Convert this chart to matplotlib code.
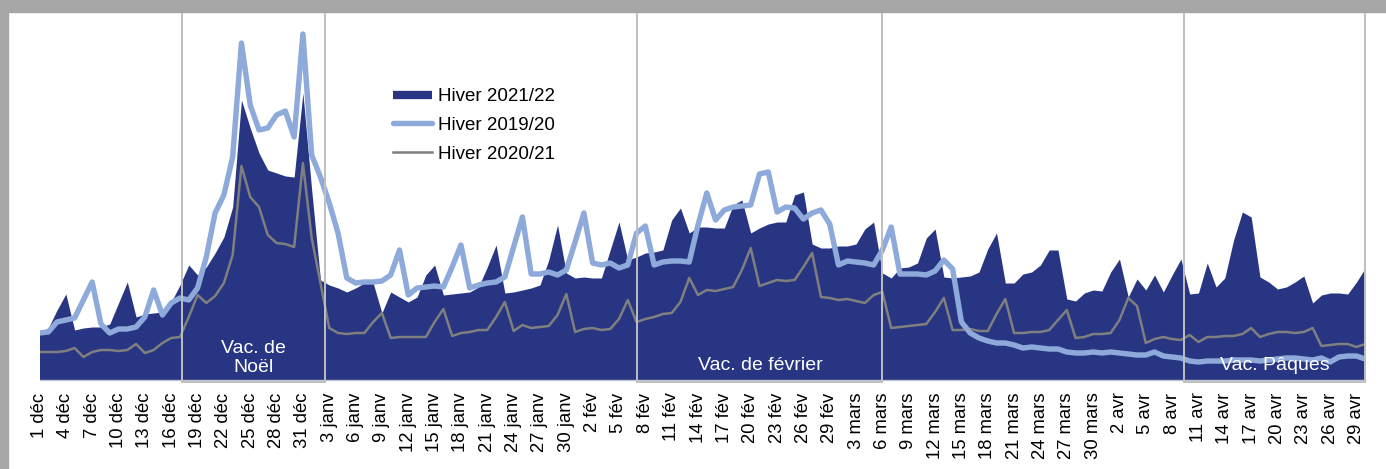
import matplotlib
matplotlib.use("Agg")
import matplotlib.pyplot as plt
from matplotlib.lines import Line2D
from matplotlib.patches import Rectangle
import pandas as pd

plt.rcParams['font.family'] = ['Liberation Sans', 'DejaVu Sans']

# daily index, 1 Dec -> 30 Apr (leap-year calendar, 152 days)
hiver_2021_22 = [
    48, 52, 70, 86, 50, 52, 53, 53, 56, 77, 98, 63, 66, 67, 68, 78, 95, 115, 105, 113,
    127, 143, 173, 280, 252, 227, 210, 207, 204, 203, 287, 190, 100, 95, 92, 88, 92, 97, 97, 67,
    88, 83, 78, 83, 105, 115, 85, 86, 87, 88, 93, 113, 135, 87, 88, 90, 92, 95, 120, 155,
    107, 102, 103, 102, 102, 130, 158, 120, 123, 127, 128, 130, 160, 172, 147, 153, 153, 152, 152, 175,
    180, 147, 152, 156, 158, 158, 185, 188, 136, 132, 132, 134, 134, 136, 151, 158, 107, 102, 112, 113,
    117, 142, 151, 103, 102, 103, 104, 108, 131, 147, 97, 97, 106, 108, 115, 130, 130, 81, 79, 87,
    90, 89, 108, 121, 83, 101, 90, 105, 88, 105, 121, 86, 87, 117, 93, 102, 140, 168, 163, 103,
    98, 91, 93, 98, 104, 77, 85, 87, 87, 86, 98, 112,
]
hiver_2019_20 = [
    47, 48, 58, 60, 62, 80, 98, 56, 47, 51, 51, 53, 63, 90, 65, 77, 82, 80, 92, 123,
    167, 185, 223, 337, 275, 250, 252, 265, 269, 243, 346, 225, 203, 177, 147, 102, 97, 98, 98, 99,
    105, 130, 85, 92, 93, 94, 93, 113, 135, 92, 95, 97, 98, 103, 133, 163, 106, 106, 108, 105,
    110, 138, 167, 117, 115, 117, 112, 115, 147, 154, 115, 118, 119, 119, 118, 155, 187, 160, 170, 173,
    174, 175, 206, 208, 168, 173, 172, 161, 167, 170, 156, 115, 119, 118, 117, 115, 130, 153, 106, 106,
    106, 105, 109, 120, 111, 58, 47, 42, 39, 37, 37, 35, 32, 33, 32, 31, 31, 28, 27, 27,
    28, 27, 28, 27, 26, 25, 25, 28, 24, 23, 22, 19, 18, 19, 19, 19, 20, 20, 20, 19,
    20, 21, 22, 22, 21, 20, 22, 18, 23, 24, 24, 21,
]
hiver_2020_21 = [
    28, 28, 28, 29, 32, 23, 28, 30, 30, 29, 30, 36, 27, 30, 37, 42, 43, 63, 85, 77,
    84, 97, 125, 214, 183, 173, 145, 137, 136, 133, 217, 142, 97, 52, 47, 46, 47, 47, 58, 67,
    42, 43, 43, 43, 43, 58, 71, 44, 47, 48, 50, 50, 63, 78, 49, 55, 52, 53, 54, 65,
    86, 48, 51, 52, 50, 51, 61, 80, 58, 61, 63, 66, 67, 78, 102, 85, 90, 89, 91, 93,
    110, 132, 94, 97, 100, 99, 100, 113, 127, 83, 82, 80, 81, 79, 77, 85, 88, 52, 53, 54,
    55, 56, 68, 82, 50, 50, 51, 49, 49, 66, 81, 47, 47, 48, 48, 50, 60, 70, 42, 43,
    46, 46, 47, 60, 82, 74, 37, 41, 43, 41, 40, 45, 38, 43, 43, 44, 44, 46, 52, 43,
    46, 48, 48, 47, 48, 52, 34, 35, 36, 36, 33, 36,
]

series_labels = ["Hiver 2021/22", "Hiver 2019/20", "Hiver 2020/21"]
month_abbr = {12: "déc", 1: "janv", 2: "fév", 3: "mars", 4: "avr"}
dates = pd.date_range("2019-12-01", periods=len(hiver_2021_22), freq="D")
tick_pos = list(range(0, len(dates), 3))
tick_labels = [f"{dates[i].day} {month_abbr[dates[i].month]}" for i in tick_pos]

# school holidays (day index span) and their captions
vacances = [(16.25, 32.5, "Vac. de\nNoël"), (68.1, 96.0, "Vac. de février"), (130.3, 151.0, "Vac. Pâques")]

navy = "#283583"
light_blue = "#8eaadb"
grey = "#7f7f7f"

W, H = 1386, 469
fig = plt.figure(figsize=(W / 100, H / 100), dpi=100)
fig.patches.append(Rectangle((0, 1 - 12 / H), 1, 12 / H, transform=fig.transFigure,
                             color="#a6a6a6", zorder=0))
fig.patches.append(Rectangle((0, 0), 8 / W, 1, transform=fig.transFigure,
                             color="#a6a6a6", zorder=0))

ax = fig.add_axes([39.5 / W, 89 / H, (1365.3 - 39.5) / W, 370 / H])
ax.set_facecolor("none")
x = list(range(len(dates)))

ax.fill_between(x, hiver_2021_22, 0, color=navy, lw=0, zorder=2)
ax.plot(x, hiver_2020_21, color=grey, lw=1.8, zorder=3, solid_joinstyle="round")
ax.plot(x, hiver_2019_20, color=light_blue, lw=3.9, zorder=4,
        solid_joinstyle="round", solid_capstyle="round")

for x0, x1, name in vacances:
    ax.add_patch(Rectangle((x0, -1.5), x1 - x0, 371.5, fill=False, ec="#bfbfbf",
                           lw=1.4, zorder=6, clip_on=False))
    ax.text((x0 + x1) / 2, 22 if "\n" in name else 15, name, color="white",
            fontsize=14, ha="center", va="center", linespacing=1.1, zorder=7)

ax.set_xlim(0, len(dates) - 1)
ax.set_ylim(0, 370)
ax.set_yticks([])
ax.set_xticks(tick_pos)
ax.set_xticklabels(tick_labels, rotation=90, fontsize=13.3)
ax.tick_params(axis="x", length=0, pad=9, colors="black")
for s in ["top", "left", "right"]:
    ax.spines[s].set_visible(False)
ax.spines["bottom"].set_color("#c0c4d4")
ax.spines["bottom"].set_linewidth(1)

handles = [
    Line2D([], [], color=navy, lw=6, solid_capstyle="butt"),
    Line2D([], [], color=light_blue, lw=3.9, solid_capstyle="round"),
    Line2D([], [], color=grey, lw=1.8),
]
fig.legend(handles, series_labels, loc="upper left", bbox_to_anchor=(393 / W, 1 - 88 / H),
           frameon=False, fontsize=13.5, handlelength=2.1, handletextpad=0.3,
           labelspacing=0.62, borderpad=0, borderaxespad=0)

fig.savefig("out.png", dpi=100)
